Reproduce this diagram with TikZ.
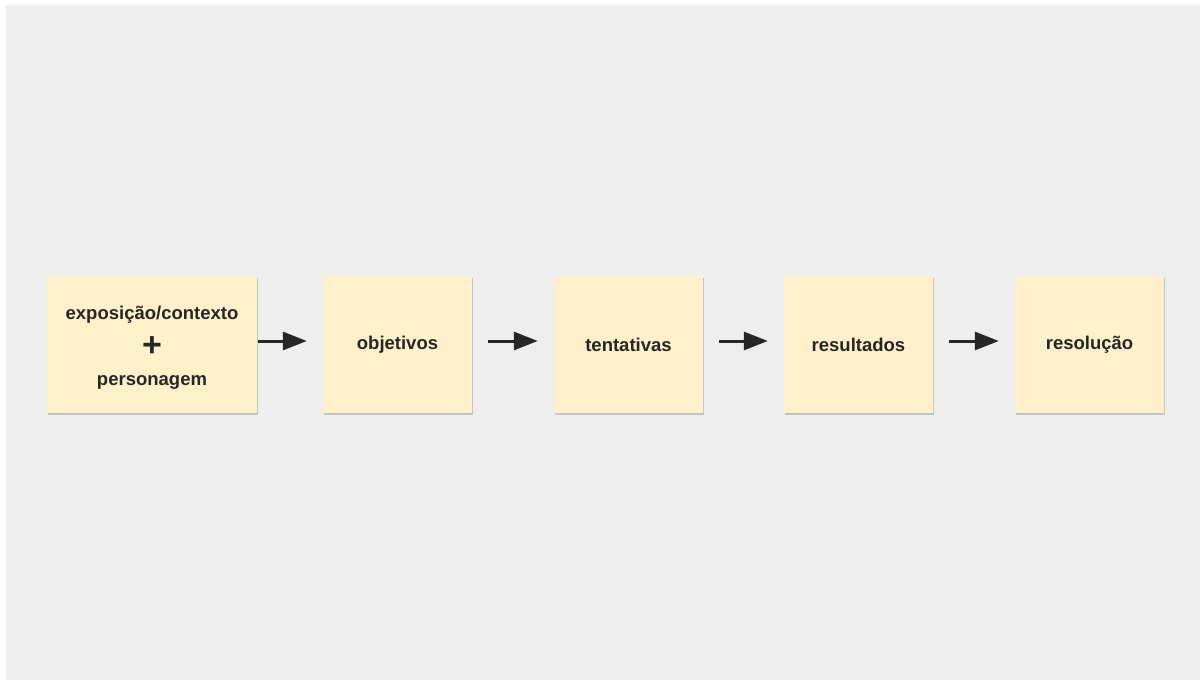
\documentclass[tikz,border=0pt]{standalone}
\usepackage{fontspec}
\setmainfont{Liberation Sans}
\usetikzlibrary{arrows.meta,calc,shadows}
\definecolor{bgc}{HTML}{EEEEEE}
\definecolor{notec}{HTML}{FEF0CB}
\definecolor{inkc}{HTML}{262626}
\tikzset{
  note/.style={fill=notec, draw=none, inner sep=0pt, minimum height=137pt,
    text=inkc, font=\fontsize{18.5}{33}\selectfont\bfseries, align=center,
    drop shadow={shadow xshift=1pt, shadow yshift=-1.5pt, opacity=0.18, fill=black}},
  flow/.style={draw=inkc, line width=3pt,
    -{Triangle[length=24pt,width=18pt]}}
}
\begin{document}
\begin{tikzpicture}[x=1pt,y=-1pt]
\useasboundingbox (0,0) rectangle (1200,680);
\fill[white] (0,0) rectangle (1200,680);
\fill[bgc] (6,5) rectangle (1200,680);
\node[note, minimum width=210pt] (n1) at (152,344.5)
  {\rule{0pt}{20pt}exposição/contexto\\\smash{\raisebox{-4pt}{\fontsize{34}{34}\selectfont +}}\\personagem};
\node[note, minimum width=149pt] (n2) at (397.5,344.5) {objetivos};
\node[note, minimum width=149pt] (n3) at (628.5,344.5) {tentativas};
\node[note, minimum width=149pt] (n4) at (858.5,344.5) {resultados};
\node[note, minimum width=149pt] (n5) at (1089.5,344.5) {resolução};
\draw[flow, shorten <=1pt, shorten >=16pt] ($(n1.east)+(0,-3.5)$) -- ($(n2.west)+(0,-3.5)$);
\draw[flow, shorten <=16pt, shorten >=16pt] ($(n2.east)+(0,-3.5)$) -- ($(n3.west)+(0,-3.5)$);
\draw[flow, shorten <=16pt, shorten >=16pt] ($(n3.east)+(0,-3.5)$) -- ($(n4.west)+(0,-3.5)$);
\draw[flow, shorten <=16pt, shorten >=16pt] ($(n4.east)+(0,-3.5)$) -- ($(n5.west)+(0,-3.5)$);
\end{tikzpicture}
\end{document}
